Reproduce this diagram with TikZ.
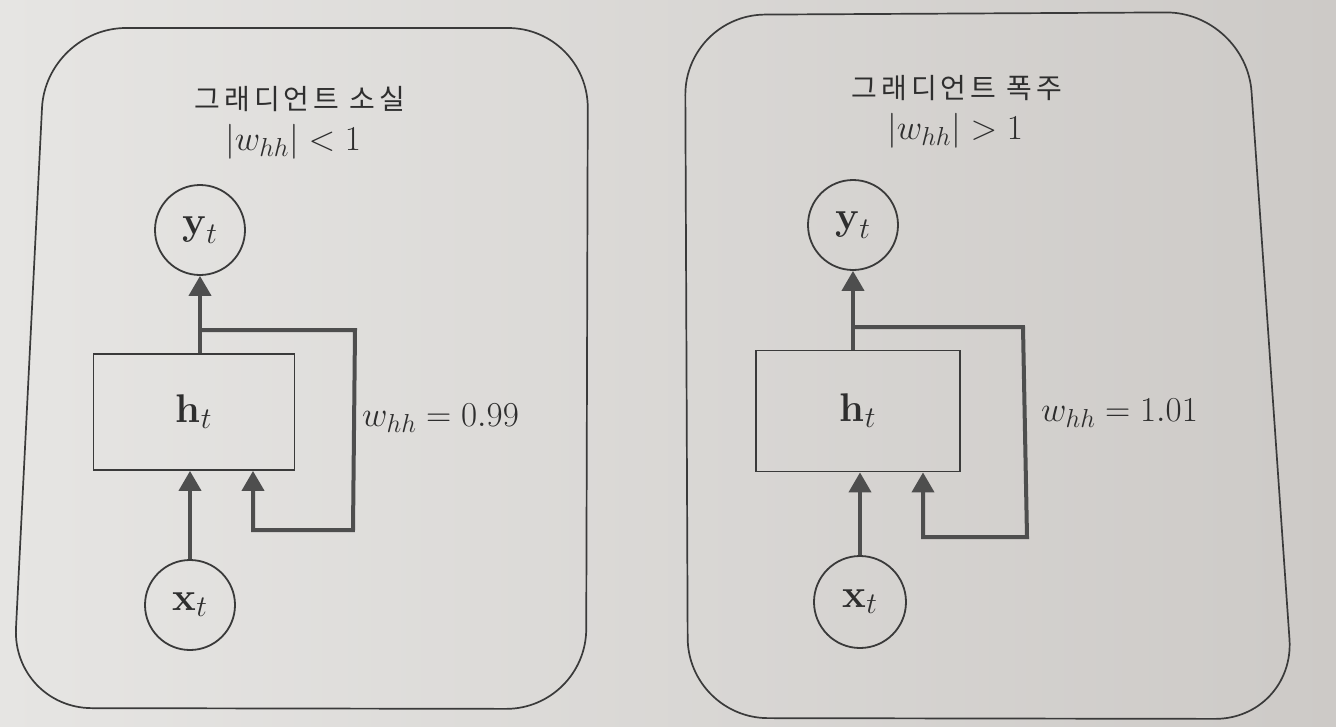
\documentclass[tikz,border=0pt]{standalone}
\usepackage{fix-cm}
\usepackage{fontspec}
\usetikzlibrary{arrows.meta}
\newfontfamily\krfont[LetterSpace=14]{Noto Sans CJK KR}
\DeclareMathSizes{35}{35}{26}{19}
\DeclareMathSizes{40}{40}{30}{22}
\definecolor{paperL}{HTML}{E6E5E3}
\definecolor{paperR}{HTML}{CDCAC7}
\definecolor{linec}{HTML}{3A3A3A}
\definecolor{arrc}{HTML}{4E4E4E}
\definecolor{txtc}{HTML}{2E2E2E}
\newcommand\mfs{\fontsize{35}{40}\selectfont}
\newcommand\nfs{\fontsize{40}{44}\selectfont}
\newcommand\tfs{\fontsize{28}{32}\selectfont}
\begin{document}
\begin{tikzpicture}[x=1pt,y=-1pt,
  panel/.style={draw=linec, line width=1.7pt, rounded corners=80pt},
  circnode/.style={circle, draw=linec, line width=1.8pt, minimum size=90pt, inner sep=0pt, font=\nfs, text=txtc},
  hbox/.style={rectangle, draw=linec, line width=1.8pt, minimum width=201pt, minimum height=116pt, inner sep=0pt, font=\nfs, text=txtc},
  arr/.style={draw=arrc, line width=4pt, line join=miter, -{Triangle[width=22pt,length=20pt]}},
  title/.style={font=\krfont\tfs, text=txtc, inner sep=0pt},
  formula/.style={font=\mfs, text=txtc, inner sep=0pt}]
\useasboundingbox (0,0) rectangle (1336,726);
\shade[left color=paperL, right color=paperR] (0,0) rectangle (1336,726);

% ---------- left panel ----------
\draw[panel] (46,28) -- (588,28) -- (586,709) -- (12,708) -- cycle;
\node[title] (tL) at (300,99) {그래디언트 소실};
\node[formula] (fL) at (293,142) {$|w_{hh}|<1$};
\node[circnode] (yL) at (200,230) {$\textbf{y}_t$};
\node[hbox] (hL) at (194,412) {$\textbf{h}_t$};
\node[circnode] (xL) at (190,605) {$\textbf{x}_t$};
\node[formula, anchor=west] (wL) at (362,418) {$w_{hh}=0.99$};
\coordinate (jL) at (200,330);
\coordinate (aL) at (355,330);
\coordinate (bL) at (353,530);
\coordinate (cL) at (253,530);
\draw[arr] (yL.south |- hL.north) -- (yL.south);
\draw[arr] (xL.north) -- (xL.north |- hL.south);
\draw[arr] (jL) -- (aL) -- (bL) -- (cL) -- (cL |- hL.south);

% ---------- right panel ----------
\draw[panel] (685,15) -- (1246,12) -- (1295,719) -- (688,718) -- cycle;
\node[title] (tR) at (957,88) {그래디언트 폭주};
\node[formula] (fR) at (955,131) {$|w_{hh}|>1$};
\node[circnode] (yR) at (853,225) {$\textbf{y}_t$};
\node[hbox, minimum width=204pt, minimum height=121pt] (hR) at (858,411) {$\textbf{h}_t$};
\node[circnode, minimum size=92pt] (xR) at (860,602) {$\textbf{x}_t$};
\node[formula, anchor=west] (wR) at (1041,413) {$w_{hh}=1.01$};
\coordinate (jR) at (853,327);
\coordinate (aR) at (1023,327);
\coordinate (bR) at (1027,537);
\coordinate (cR) at (923,537);
\draw[arr] (yR.south |- hR.north) -- (yR.south);
\draw[arr] (xR.north) -- (xR.north |- hR.south);
\draw[arr] (jR) -- (aR) -- (bR) -- (cR) -- (cR |- hR.south);
\end{tikzpicture}
\end{document}
